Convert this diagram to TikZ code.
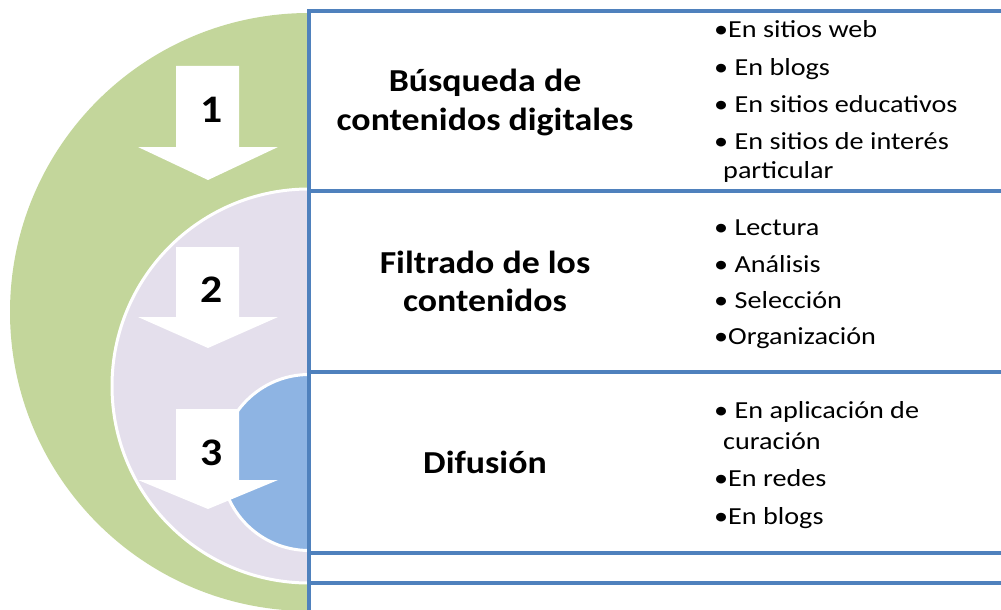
\documentclass[tikz,border=0pt]{standalone}
\usepackage{fontspec}
\setmainfont{Carlito}
\newfontfamily\hdfont[FakeStretch=1.12]{Carlito}
\newfontfamily\bdfont[FakeStretch=1.15]{Carlito}
\definecolor{ringgreen}{HTML}{C3D69B}
\definecolor{ringlav}{HTML}{E4DFEC}
\definecolor{ringblue}{HTML}{8EB4E3}
\definecolor{edgeblue}{HTML}{4F81BD}
\begin{document}
\begin{tikzpicture}[x=1pt,y=-1pt,
  boxline/.style={draw=edgeblue, line width=3.5pt},
  ringedge/.style={draw=white, line width=3pt},
  arrowshape/.style={fill=white},
  headtext/.style={font=\hdfont\bfseries\fontsize{32}{38}\selectfont, anchor=base, inner sep=0pt},
  numtext/.style={font=\hdfont\bfseries\fontsize{39}{44}\selectfont, anchor=base, inner sep=0pt},
  itemtext/.style={font=\bdfont\fontsize{24.5}{30}\selectfont, anchor=base west, inner sep=0pt}]
\useasboundingbox (0,0) rectangle (1001,610);
% half discs
\begin{scope}
  \clip (0,0) rectangle (309,612);
  \fill[ringgreen] (309,312) circle[radius=299pt];
  \filldraw[fill=ringlav, ringedge] (309,386) circle[radius=197pt];
  \filldraw[fill=ringblue, ringedge] (309,462.5) circle[radius=88pt];
\end{scope}
% arrows
\fill[arrowshape] (176,66) -- (239,66) -- (239,147) -- (278,147) -- (208,180) -- (138,147) -- (176,147) -- cycle;
\fill[arrowshape] (176,247) -- (239,247) -- (239,317) -- (278,317) -- (208,348) -- (138,317) -- (176,317) -- cycle;
\fill[arrowshape] (176,409) -- (239,409) -- (239,480) -- (278,480) -- (208,509) -- (138,480) -- (176,480) -- cycle;
\node[numtext] (n1) at (212,122) {1};
\node[numtext] (n2) at (212,302) {2};
\node[numtext] (n3) at (212,465) {3};
% table lines
\draw[boxline] (309,11) -- (1010,11);
\draw[boxline] (309,191) -- (1010,191);
\draw[boxline] (309,372) -- (1010,372);
\draw[boxline] (309,553) -- (1010,553);
\draw[boxline] (309,583) -- (1010,583);
\draw[boxline] (309,9.25) -- (309,615);
% headings
\node[headtext] (h1a) at (485,92) {Búsqueda de};
\node[headtext] (h1b) at (485,130) {contenidos digitales};
\node[headtext] (h2a) at (485,273) {Filtrado de los};
\node[headtext] (h2b) at (485,311) {contenidos};
\node[headtext] (h3a) at (485,473) {Difusión};
% lists
\node[itemtext] (a1) at (714,38) {•En sitios web};
\node[itemtext] (a2) at (714,75) {• En blogs};
\node[itemtext] (a3) at (714,112) {• En sitios educativos};
\node[itemtext] (a4) at (714,149) {• En sitios de interés};
\node[itemtext] (a5) at (723,178) {particular};
\node[itemtext] (b1) at (714,235) {• Lectura};
\node[itemtext] (b2) at (714,272) {• Análisis};
\node[itemtext] (b3) at (714,308) {• Selección};
\node[itemtext] (b4) at (714,344) {•Organización};
\node[itemtext] (c1) at (714,418) {• En aplicación de};
\node[itemtext] (c2) at (723,449) {curación};
\node[itemtext] (c3) at (714,486) {•En redes};
\node[itemtext] (c4) at (714,524) {•En blogs};
\end{tikzpicture}
\end{document}
